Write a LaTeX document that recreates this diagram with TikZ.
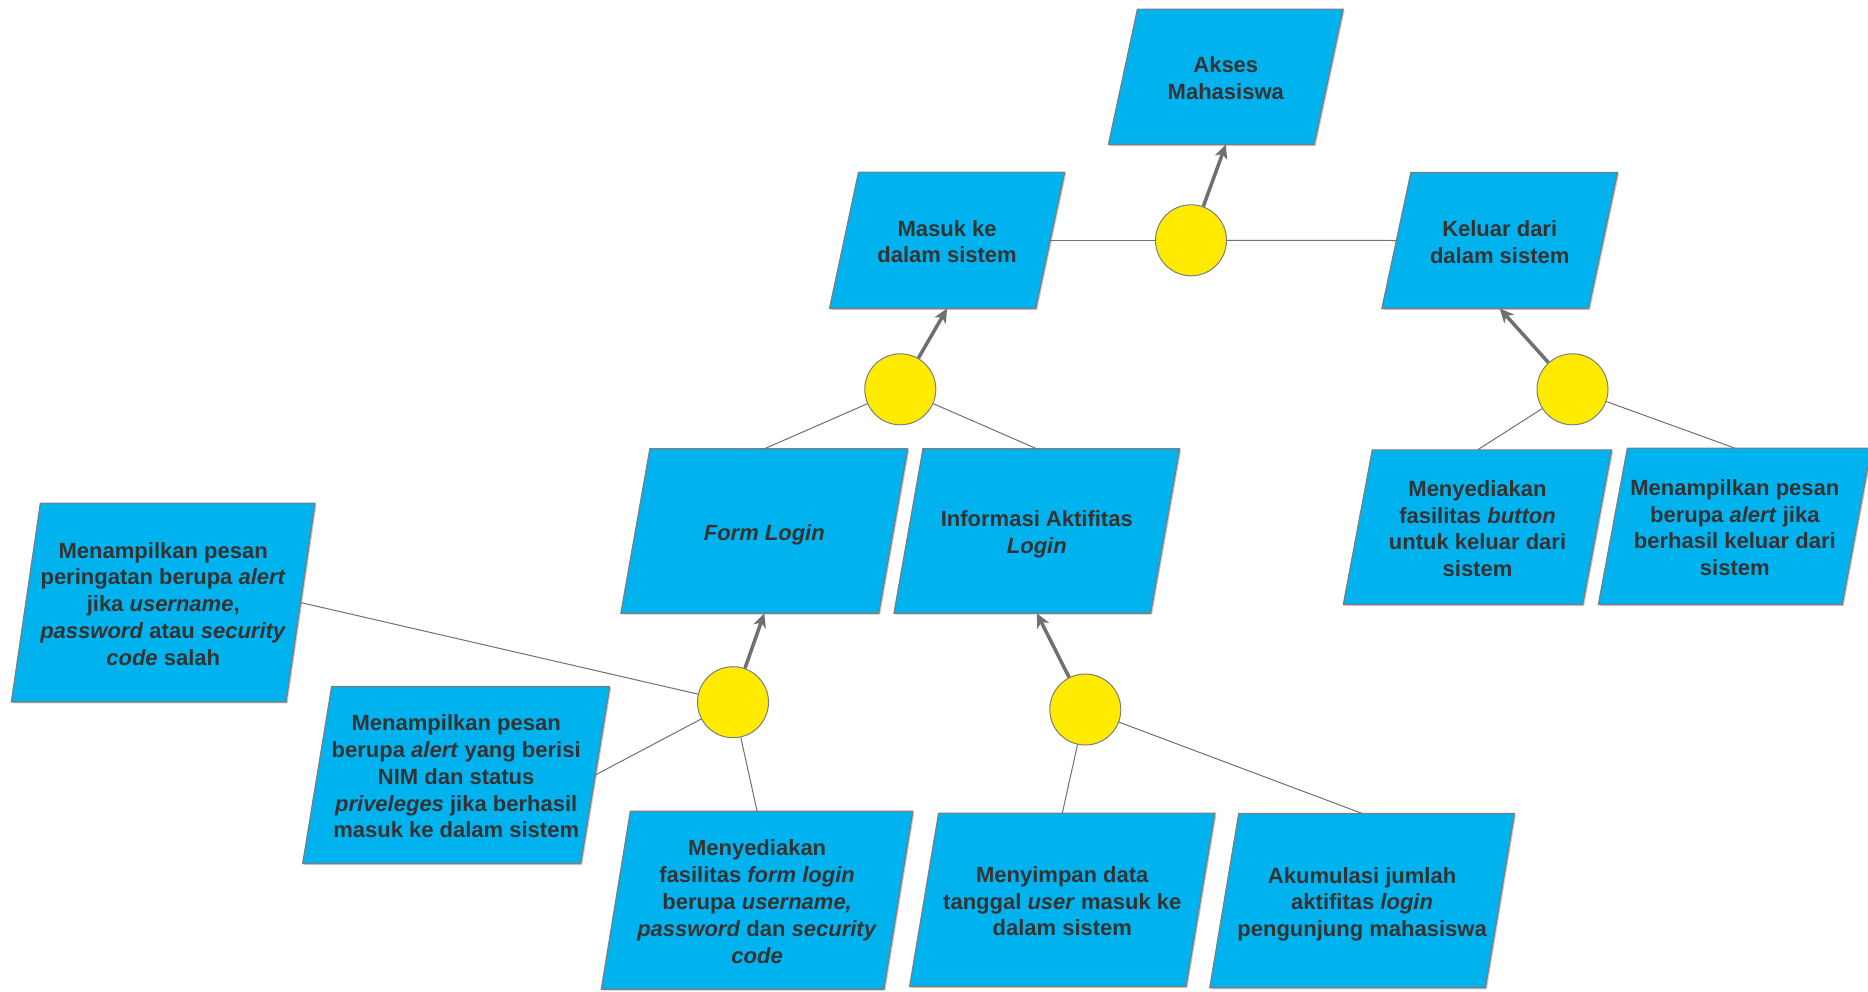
\documentclass[tikz,border=0pt]{standalone}
\usepackage{fontspec}
\setmainfont{Liberation Sans}
\usetikzlibrary{arrows.meta,backgrounds}

\definecolor{boxfill}{RGB}{0,178,238}
\definecolor{boxline}{RGB}{125,125,125}
\definecolor{boxshade}{RGB}{205,205,205}
\definecolor{dotfill}{RGB}{255,235,0}
\definecolor{txt}{RGB}{51,51,51}
\definecolor{wire}{RGB}{112,112,112}

% fixed first-line height and last-line depth keep every text block centred alike
\newcommand\topstrut{\rule{0pt}{24pt}}
\newcommand\botstrut{\rule[-5.6pt]{0pt}{5.6pt}}

\tikzset{
  para/.style={rectangle, inner sep=0pt, align=center, text=txt,
    font=\fontsize{22}{26.8}\selectfont\bfseries},
  paraedge/.style={fill=boxfill, draw=boxline, line width=1.2pt, line join=miter},
  parashade/.style={fill=boxshade},
  joint/.style={circle, minimum size=71pt, inner sep=0pt, fill=dotfill,
    draw=boxline, line width=1pt},
  link/.style={draw=wire, line width=1pt},
  lift/.style={draw=wire, line width=3.5pt,
    -{Stealth[length=14pt,width=13pt,inset=4pt]}},
}

% slanted outline behind a text node; the node's width is the mid-height width
\newcommand\paraoutline[1]{%
  \begin{pgfonlayer}{background}
    \path[parashade] ([xshift=16pt,yshift=-1.5pt]#1.north west) -- ([xshift=16pt,yshift=-1.5pt]#1.north east)
      -- ([xshift=-13pt,yshift=-1.5pt]#1.south east) -- ([xshift=-13pt,yshift=-1.5pt]#1.south west) -- cycle;
    \path[paraedge] ([xshift=14.5pt]#1.north west) -- ([xshift=14.5pt]#1.north east)
      -- ([xshift=-14.5pt]#1.south east) -- ([xshift=-14.5pt]#1.south west) -- cycle;
  \end{pgfonlayer}}

\begin{document}
\begin{tikzpicture}[x=1pt,y=-1pt]
  \begin{pgfonlayer}{background}
    \fill[white] (0,0) rectangle (1868,991);
  \end{pgfonlayer}
  \useasboundingbox (0,0) rectangle (1868,991);

  % goal and sub-goals
  \node[para, minimum width=205.4pt, minimum height=135pt] (akses) at (1225.8,76.8)
    {\topstrut Akses\\Mahasiswa\botstrut};
  \node[para, minimum width=205.8pt, minimum height=136pt] (masuk) at (947.1,240.3)
    {\topstrut Masuk ke\\dalam sistem\botstrut};
  \node[para, minimum width=206.3pt, minimum height=135.6pt] (keluar) at (1499.7,240.5)
    {\topstrut Keluar dari\\dalam sistem\botstrut};
  \node[para, minimum width=257.5pt, minimum height=164pt] (formlogin) at (764.3,531)
    {\topstrut\textit{Form Login}\botstrut};
  \node[para, minimum width=256.3pt, minimum height=164pt] (infologin) at (1036.8,531)
    {\topstrut Informasi Aktifitas\\\textit{Login}\botstrut};
  \node[para, minimum width=239pt, minimum height=154.3pt] (tombol) at (1477.5,527.2)
    {\topstrut Menyediakan\\fasilitas \textit{button}\\untuk keluar dari\\sistem\botstrut};
  \node[para, minimum width=243.5pt, minimum height=156pt] (pesankeluar) at (1734.8,526.3)
    {\topstrut Menampilkan pesan\\berupa \textit{alert} jika\\berhasil keluar dari\\sistem\botstrut};
  \node[para, minimum width=274.3pt, minimum height=198.4pt] (peringatan) at (163.2,602.5)
    {\topstrut Menampilkan pesan\\peringatan berupa \textit{alert}\\jika \textit{username},\\\textit{password} atau \textit{security}\\\textit{code} salah\botstrut};
  \node[para, minimum width=277.7pt, minimum height=176.6pt] (pesanmasuk) at (456.2,775)
    {\topstrut Menampilkan pesan\\berupa \textit{alert} yang berisi\\NIM dan status\\\textit{priveleges} jika berhasil\\masuk ke dalam sistem\botstrut};
  \node[para, minimum width=282.2pt, minimum height=177.5pt] (fasilitas) at (757.1,900.2)
    {\topstrut Menyediakan\\fasilitas \textit{form login}\\berupa \textit{username,}\\\textit{password} dan \textit{security}\\\textit{code}\botstrut};
  \node[para, minimum width=276pt, minimum height=173pt] (simpan) at (1062.3,899.8)
    {\topstrut Menyimpan data\\tanggal \textit{user} masuk ke\\dalam sistem\botstrut};
  \node[para, minimum width=275.3pt, minimum height=173.9pt] (akumulasi) at (1362.1,900.6)
    {\topstrut Akumulasi jumlah\\aktifitas \textit{login}\\pengunjung mahasiswa\botstrut};

  \foreach \n in {akses,masuk,keluar,formlogin,infologin,tombol,pesankeluar,
                  peringatan,pesanmasuk,fasilitas,simpan,akumulasi}{\paraoutline{\n}}

  % junctions
  \node[joint] (jtop) at (1191,240.3) {};
  \node[joint] (jmasuk) at (900.3,389.3) {};
  \node[joint] (jkeluar) at (1572.5,389.3) {};
  \node[joint] (jform) at (733,702.2) {};
  \node[joint] (jinfo) at (1085.3,709.5) {};

  % connectors
  \draw[link] (masuk.east) -- (jtop);
  \draw[link] (jtop) -- (keluar.west);
  \draw[lift] (jtop) -- (akses.south);

  \draw[link] (jmasuk) -- (formlogin.north);
  \draw[link] (jmasuk) -- (infologin.north);
  \draw[lift] (jmasuk) -- (masuk.south);

  \draw[link] (jkeluar) -- (tombol.north);
  \draw[link] (jkeluar) -- (pesankeluar.north);
  \draw[lift] (jkeluar) -- (keluar.south);

  \draw[link] (jform) -- (peringatan.east);
  \draw[link] (jform) -- (pesanmasuk.east);
  \draw[link] (jform) -- (fasilitas.north);
  \draw[lift] (jform) -- (formlogin.south);

  \draw[link] (jinfo) -- (simpan.north);
  \draw[link] (jinfo) -- (akumulasi.north);
  \draw[lift] (jinfo) -- (infologin.south);
\end{tikzpicture}
\end{document}
